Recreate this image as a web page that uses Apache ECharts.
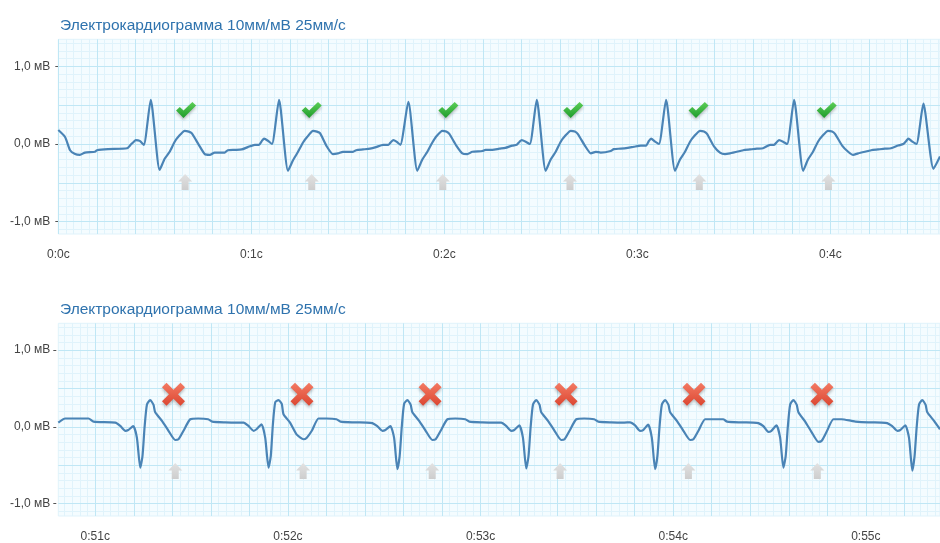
<!DOCTYPE html>
<html>
<head>
<meta charset="utf-8">
<script src="https://cdn.jsdelivr.net/npm/echarts@6/dist/echarts.min.js"></script>
<style>
html,body{margin:0;padding:0;background:#fff;}
#c{width:940px;height:543px;}
</style>
</head>
<body>
<div id="c"></div>
<script>
// ---- data (time in seconds, amplitude in mV) ----
const chartTitle = 'Электрокардиограмма 10мм/мВ 25мм/с';
const yTickValues = [-1, 0, 1];
const topTickSeconds = [0, 1, 2, 3, 4];
const bottomTickSeconds = [51, 52, 53, 54, 55];
const topRange = [0, 4.568];
const bottomRange = [50.808, 55.385];
const mvRange = [-1.16, 1.35];

const topEcg = [
  [0.000,0.18],[0.035,0.09],[0.061,-0.08],[0.087,-0.13],[0.112,-0.14],[0.138,-0.11],[0.190,-0.10],[0.200,-0.08],[0.258,-0.065],[0.356,-0.055],
  [0.375,-0.01],[0.391,0.03],[0.401,0.05],[0.422,0.04],[0.443,-0.01],[0.479,0.57],[0.525,-0.335],[0.551,-0.19],[0.577,-0.10],[0.603,0.03],[0.624,0.10],[0.655,0.17],[0.676,0.16],[0.691,0.14],[0.728,-0.01],[0.759,-0.13],[0.785,-0.14],[0.810,-0.11],[0.862,-0.11],[0.878,-0.08],[0.914,-0.075],[0.950,-0.07],[0.982,-0.04],[1.018,-0.01],
  [1.040,-0.01],[1.055,0.04],[1.066,0.07],[1.087,0.04],[1.107,0.00],[1.1435,0.57],[1.190,-0.345],[1.216,-0.21],[1.242,-0.10],[1.268,0.02],[1.289,0.09],[1.320,0.17],[1.340,0.16],[1.356,0.14],[1.392,-0.035],[1.423,-0.13],[1.449,-0.12],[1.475,-0.10],[1.527,-0.10],[1.543,-0.08],[1.579,-0.07],[1.615,-0.06],[1.646,-0.04],[1.683,-0.01],
  [1.710,-0.01],[1.725,0.03],[1.736,0.05],[1.752,0.03],[1.772,-0.01],[1.8135,0.545],[1.860,-0.345],[1.886,-0.20],[1.912,-0.10],[1.938,0.02],[1.959,0.10],[1.990,0.17],[2.010,0.16],[2.026,0.13],[2.062,-0.02],[2.093,-0.12],[2.119,-0.13],[2.145,-0.10],[2.197,-0.09],[2.213,-0.075],[2.249,-0.075],[2.285,-0.06],[2.316,-0.05],[2.352,-0.02],
  [2.375,-0.01],[2.390,0.03],[2.401,0.05],[2.422,0.03],[2.443,0.00],[2.4788,0.57],[2.525,-0.345],[2.551,-0.20],[2.577,-0.10],[2.603,0.03],[2.624,0.10],[2.655,0.17],[2.676,0.16],[2.691,0.13],[2.728,-0.02],[2.759,-0.12],[2.785,-0.10],[2.810,-0.11],[2.862,-0.09],[2.878,-0.065],[2.914,-0.06],[2.950,-0.05],[2.982,-0.035],[3.018,-0.02],
  [3.045,-0.02],[3.060,0.04],[3.071,0.07],[3.092,0.03],[3.112,0.00],[3.1487,0.57],[3.195,-0.345],[3.221,-0.20],[3.247,-0.10],[3.273,0.03],[3.294,0.10],[3.325,0.17],[3.345,0.16],[3.361,0.13],[3.397,-0.03],[3.428,-0.11],[3.454,-0.13],[3.480,-0.12],[3.532,-0.09],[3.548,-0.08],[3.584,-0.07],[3.620,-0.06],[3.651,-0.055],[3.688,-0.01],
  [3.708,-0.01],[3.724,0.03],[3.734,0.05],[3.755,0.03],[3.776,0.00],[3.8119,0.57],[3.859,-0.345],[3.884,-0.20],[3.910,-0.10],[3.936,0.03],[3.957,0.10],[3.988,0.17],[4.009,0.16],[4.024,0.13],[4.061,-0.02],[4.092,-0.10],[4.118,-0.14],[4.144,-0.12],[4.195,-0.09],[4.211,-0.08],[4.247,-0.07],[4.283,-0.06],[4.314,-0.055],[4.351,-0.02],
  [4.378,0.00],[4.393,0.04],[4.404,0.07],[4.425,0.03],[4.446,0.00],[4.4819,0.52],[4.534,-0.32],[4.568,-0.16]
];

const bottomEcg = [
  [50.808,0.057],[50.844,0.11],[50.965,0.11],[50.991,0.07],
  [51.104,0.057],[51.130,0.013],[51.156,-0.05],[51.171,-0.04],[51.197,0.01],[51.216,-0.14],[51.2335,-0.53],[51.245,-0.38],[51.256,0.00],[51.268,0.29],[51.285,0.35],[51.302,0.29],[51.311,0.19],[51.346,0.08],[51.380,-0.05],[51.415,-0.17],[51.432,-0.16],[51.458,-0.05],[51.493,0.10],[51.534,0.11],[51.586,0.10],[51.607,0.07],[51.674,0.06],[51.742,0.057],
  [51.770,0.057],[51.795,0.013],[51.822,-0.05],[51.837,-0.03],[51.863,0.035],[51.882,-0.14],[51.8993,-0.53],[51.911,-0.38],[51.922,0.035],[51.934,0.32],[51.951,0.35],[51.968,0.30],[51.977,0.165],[52.011,0.057],[52.046,-0.10],[52.081,-0.16],[52.098,-0.14],[52.124,-0.05],[52.159,0.11],[52.200,0.11],[52.252,0.10],[52.273,0.07],[52.340,0.06],[52.408,0.057],
  [52.438,0.05],[52.464,0.01],[52.490,-0.05],[52.506,-0.04],[52.532,0.01],[52.551,-0.14],[52.5682,-0.55],[52.580,-0.38],[52.591,0.00],[52.603,0.30],[52.620,0.35],[52.637,0.29],[52.646,0.19],[52.681,0.08],[52.715,-0.05],[52.750,-0.17],[52.767,-0.16],[52.793,-0.05],[52.828,0.10],[52.869,0.11],[52.921,0.10],[52.942,0.07],[53.009,0.06],[53.077,0.057],
  [53.107,0.057],[53.133,0.013],[53.159,-0.05],[53.175,-0.04],[53.201,0.02],[53.220,-0.14],[53.2371,-0.54],[53.249,-0.38],[53.260,0.00],[53.272,0.29],[53.289,0.35],[53.306,0.29],[53.315,0.19],[53.350,0.08],[53.384,-0.05],[53.419,-0.17],[53.436,-0.16],[53.462,-0.05],[53.497,0.10],[53.538,0.11],[53.590,0.10],[53.611,0.07],[53.678,0.06],[53.746,0.057],
  [53.776,0.06],[53.802,0.02],[53.828,-0.05],[53.844,-0.04],[53.870,0.03],[53.889,-0.14],[53.906,-0.55],[53.918,-0.38],[53.929,0.00],[53.941,0.29],[53.958,0.35],[53.975,0.29],[53.984,0.19],[54.019,0.08],[54.053,-0.05],[54.088,-0.17],[54.105,-0.16],[54.131,-0.05],[54.166,0.10],[54.207,0.10],[54.259,0.10],[54.280,0.07],[54.347,0.06],[54.415,0.057],
  [54.442,0.05],[54.468,0.01],[54.494,-0.065],[54.510,-0.05],[54.536,0.02],[54.555,-0.14],[54.5719,-0.53],[54.584,-0.38],[54.595,0.00],[54.607,0.29],[54.624,0.35],[54.641,0.29],[54.650,0.19],[54.685,0.07],[54.719,-0.07],[54.754,-0.195],[54.771,-0.18],[54.797,-0.06],[54.832,0.10],[54.873,0.10],[54.925,0.08],[54.946,0.07],[55.013,0.06],[55.081,0.057],
  [55.111,0.05],[55.137,0.01],[55.163,-0.05],[55.179,-0.04],[55.205,0.02],[55.224,-0.14],[55.2413,-0.57],[55.253,-0.38],[55.264,0.00],[55.276,0.29],[55.293,0.35],[55.310,0.29],[55.319,0.19],[55.354,0.08],[55.385,-0.03]
];

const topChecks = [[0.662,0.44],[1.313,0.44],[2.021,0.44],[2.668,0.44],[3.317,0.44],[3.981,0.44]];
const topArrows = [[0.657,-0.49],[1.313,-0.49],[1.992,-0.49],[2.651,-0.49],[3.321,-0.49],[3.990,-0.49]];
const bottomCrosses = [[51.406,0.425],[52.073,0.425],[52.738,0.425],[53.444,0.425],[54.108,0.425],[54.772,0.425]];
const bottomArrows = [[51.415,-0.575],[52.079,-0.575],[52.749,-0.575],[53.413,-0.575],[54.079,-0.575],[54.748,-0.575]];

// ---- styles ----
const MINOR = '#e0f3fb';
const MAJOR = '#c0e7f5';
const FONT = '"Liberation Sans", Arial, sans-serif';

function paperLines(xr, yr) {
  const out = [];
  for (let k = Math.ceil(xr[0] / 0.04 - 1e-6); k * 0.04 <= xr[1] + 1e-9; k++) {
    const v = Math.round(k * 4) / 100;
    out.push({xAxis: v, lineStyle: {color: k % 5 === 0 ? MAJOR : MINOR, width: 1, type: 'solid'}});
  }
  for (let k = Math.ceil(yr[0] / 0.1 - 1e-6); k * 0.1 <= yr[1] + 1e-9; k++) {
    const v = Math.round(k) / 10;
    out.push({yAxis: v, lineStyle: {color: k % 5 === 0 ? MAJOR : MINOR, width: 1, type: 'solid'}});
  }
  out.sort((a, b) => (a.lineStyle.color === MAJOR) - (b.lineStyle.color === MAJOR));
  return out;
}

const fmtMv = v => v.toFixed(1).replace('.', ',') + ' мВ';
const fmtSec = v => { const s = Math.round(v); return Math.floor(s / 60) + ':' + (s % 60) + 'с'; };

const CHECK = 'path://M0,9.5 L4,5.5 L8,9.5 L17.5,0 L21.5,4 L8,17.5 Z';
const CROSS = 'path://M4.5,0 L11.5,7 L18.5,0 L23,4.5 L16,11.5 L23,18.5 L18.5,23 L11.5,16 L4.5,23 L0,18.5 L7,11.5 L0,4.5 Z';
const ARROW = 'path://M7,0 L14,7 L10.5,7 L10.5,15 L3.5,15 L3.5,7 L0,7 Z';

const grad = (a, b) => ({type: 'linear', x: 0, y: 0, x2: 0, y2: 1, colorStops: [{offset: 0, color: a}, {offset: 1, color: b}]});

function xAxisOf(i, range, ticks) {
  return {
    type: 'value', gridIndex: i, min: range[0], max: range[1], offset: 2,
    axisLine: {show: false},
    axisTick: {show: true, length: 3, lineStyle: {color: '#555'}, customValues: ticks},
    axisLabel: {color: '#444', fontSize: 12, fontFamily: FONT, margin: 13, customValues: ticks, formatter: fmtSec},
    splitLine: {show: false}
  };
}
function yAxisOf(i) {
  return {
    type: 'value', gridIndex: i, min: mvRange[0], max: mvRange[1], offset: 2,
    axisLine: {show: false},
    axisTick: {show: true, length: 3, lineStyle: {color: '#555'}, customValues: yTickValues},
    axisLabel: {color: '#444', fontSize: 12, fontFamily: FONT, margin: 6, customValues: yTickValues, formatter: fmtMv},
    splitLine: {show: false}
  };
}

function seriesFor(i, ecg, xr, marks, markSymbol, markSize, markColor, arrows) {
  return [
    {type: 'line', xAxisIndex: i, yAxisIndex: i, data: [ecg[0]], showSymbol: false, silent: true, zlevel: 0, z: 1,
     lineStyle: {opacity: 0},
     markLine: {silent: true, symbol: ['none', 'none'], label: {show: false}, animation: false, data: paperLines(xr, mvRange)}},
    {type: 'line', xAxisIndex: i, yAxisIndex: i, data: ecg, showSymbol: false, smooth: 0.2, zlevel: 1, z: 3,
     lineStyle: {color: '#4a84b6', width: 2.2}, clip: true},
    {type: 'scatter', xAxisIndex: i, yAxisIndex: i, data: marks, symbol: markSymbol, symbolSize: markSize, zlevel: 1, z: 4,
     itemStyle: {color: markColor, shadowBlur: 3, shadowOffsetY: 2, shadowColor: 'rgba(0,0,0,0.25)', opacity: 1}},
    {type: 'scatter', xAxisIndex: i, yAxisIndex: i, data: arrows, symbol: ARROW, symbolSize: [14, 16], zlevel: 1, z: 4,
     itemStyle: {color: grad('#e2e2e2', '#cdcdcd'), opacity: 1}}
  ];
}

const chart = echarts.init(document.getElementById('c'), null, {renderer: 'canvas'});
chart.setOption({
  animation: false,
  backgroundColor: '#ffffff',
  title: [
    {text: chartTitle, left: 55, top: 13, textStyle: {color: '#2f73ae', fontSize: 15.5, fontWeight: 'normal', fontFamily: FONT}},
    {text: chartTitle, left: 55, top: 297, textStyle: {color: '#2f73ae', fontSize: 15.5, fontWeight: 'normal', fontFamily: FONT}}
  ],
  grid: [
    {left: 58.3, top: 39.3, right: 0, height: 194.7, show: true, backgroundColor: '#f4fcff', borderColor: MINOR, borderWidth: 1},
    {left: 58.3, top: 323.3, right: 0, height: 194.4, show: true, backgroundColor: '#f4fcff', borderColor: MINOR, borderWidth: 1}
  ],
  xAxis: [xAxisOf(0, topRange, topTickSeconds), xAxisOf(1, bottomRange, bottomTickSeconds)],
  yAxis: [yAxisOf(0), yAxisOf(1)],
  series: [
    ...seriesFor(0, topEcg, topRange, topChecks, CHECK, [20, 16], grad('#5ccf57', '#1f9c2b'), topArrows),
    ...seriesFor(1, bottomEcg, bottomRange, bottomCrosses, CROSS, [23, 23], grad('#f37a63', '#dc4631'), bottomArrows)
  ]
});
</script>
</body>
</html>
